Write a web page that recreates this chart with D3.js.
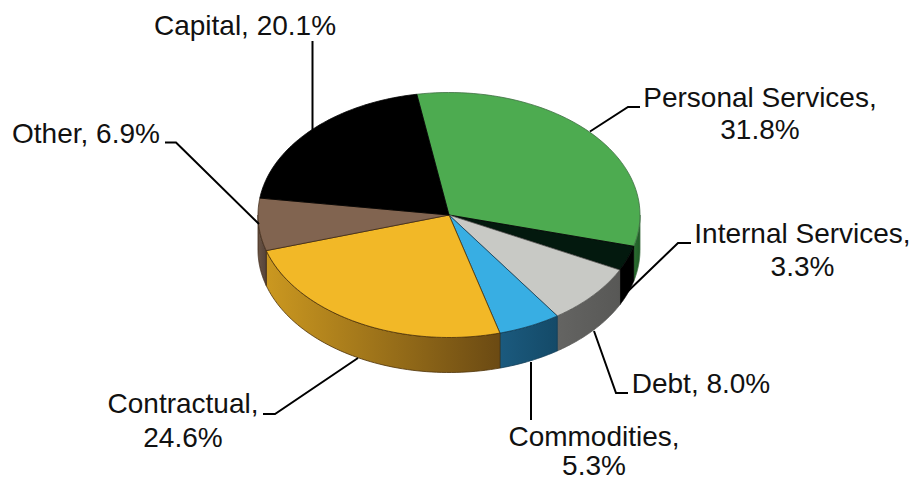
<!DOCTYPE html>
<html>
<head>
<meta charset="utf-8">
<script src="https://cdn.jsdelivr.net/npm/d3@7"></script>
<style>
  html, body { margin: 0; padding: 0; background: #fff; }
  svg { display: block; }
  text { font-family: "Liberation Sans", Arial, sans-serif; font-size: 28px; fill: #111; }
</style>
</head>
<body>
<svg id="chart" width="913" height="481"></svg>
<script>
// Budget shares by expenditure category, clockwise
const categories = ["Personal Services", "Internal Services", "Debt", "Commodities", "Contractual", "Other", "Capital"];
const shares = [31.8, 3.3, 8.0, 5.3, 24.6, 6.9, 20.1];

const topColors = ["#4dab50", "#03190e", "#c8c9c5", "#38aee3", "#f2b827", "#816450", "#000000"];
const wallLight = ["#2c6f31", "#000000", "#646462", "#1b5a7e", "#cb9820", "#6a5444", "#000000"];
const wallDark  = ["#1f5a26", "#000000", "#585856", "#144a68", "#6b4a13", "#55433a", "#000000"];
const edgeColors = ["#3f6f42", "#000000", "#5a5a58", "#123c55", "#4e3208", "#3f2a18", "#000000"];

// Label text lines, split the way they wrap on the page
const labelLines = [
  ["Personal Services,", "31.8%"],
  ["Internal Services,", "3.3%"],
  ["Debt, 8.0%"],
  ["Commodities,", "5.3%"],
  ["Contractual,", "24.6%"],
  ["Other, 6.9%"],
  ["Capital, 20.1%"]
];

// Layout of the tilted disc
const cx = 449, cy = 215, rx = 191, ry = 122.5, depth = 35;
const startAngle = -9.7 * Math.PI / 180;

// Text centre, baselines and leader path for each label
const labelLayout = [
  { x: 760, ys: [106.5, 139], lead: [[590, 131.5], [628, 107], [640, 107]] },
  { x: 802.5, ys: [243, 276], lead: [[622, 297], [678, 243], [691, 243]] },
  { x: 701, ys: [392.5], lead: [[594, 331], [616, 393], [628, 393]] },
  { x: 594, ys: [446, 474.8], lead: [[531, 362], [531, 420]] },
  { x: 183, ys: [413, 447], lead: [[358, 358], [275, 414], [263, 414]] },
  { x: 86, ys: [142.5], lead: [[259, 224], [176, 142.5], [165, 142.5]] },
  { x: 245, ys: [35], lead: [[312.5, 41], [312.5, 130]] }
];

const svg = d3.select("#chart");
const defs = svg.append("defs");

const pie = d3.pie().sort(null)
  .startAngle(startAngle)
  .endAngle(startAngle + 2 * Math.PI);
const slices = pie(shares);

// Angle 0 points up and angles grow clockwise, as in d3.arc
const px = d3.scaleLinear().domain([-1, 1]).range([cx - rx, cx + rx]);
const py = d3.scaleLinear().domain([-1, 1]).range([cy - ry, cy + ry]);
const rimPoint = a => [px(Math.sin(a)), py(-Math.cos(a))];
const rimLine = d3.line();

function rimPoints(a0, a1) {
  return d3.range(0, 61).map(i => rimPoint(a0 + (a1 - a0) * i / 60));
}

// The wall is visible only along the near half of the rim
const nearStart = Math.PI / 2, nearEnd = 3 * Math.PI / 2;

slices.forEach((s, i) => {
  const a0 = Math.max(s.startAngle, nearStart);
  const a1 = Math.min(s.endAngle, nearEnd);
  if (a1 <= a0) return;
  const upper = rimPoints(a0, a1);
  const lower = upper.map(p => [p[0], p[1] + depth]).reverse();

  const grad = defs.append("linearGradient").attr("id", "wall" + i);
  grad.append("stop").attr("offset", "0%").attr("stop-color", wallLight[i]);
  grad.append("stop").attr("offset", "100%").attr("stop-color", wallDark[i]);

  svg.append("path")
    .attr("d", rimLine(upper.concat(lower)) + "Z")
    .attr("fill", `url(#wall${i})`)
    .attr("stroke", edgeColors[i])
    .attr("stroke-width", 0.8);
});

// Top faces of the slices
slices.forEach((s, i) => {
  const pts = [[cx, cy]].concat(rimPoints(s.startAngle, s.endAngle));
  svg.append("path")
    .attr("d", rimLine(pts) + "Z")
    .attr("fill", topColors[i])
    .attr("stroke", edgeColors[i])
    .attr("stroke-width", 0.8)
    .attr("stroke-linejoin", "round");
});

// Leader lines and their labels
categories.forEach((c, i) => {
  const l = labelLayout[i];
  svg.append("path")
    .attr("d", rimLine(l.lead))
    .attr("fill", "none")
    .attr("stroke", "#000")
    .attr("stroke-width", 2);
  labelLines[i].forEach((line, k) => {
    svg.append("text")
      .attr("text-anchor", "middle")
      .attr("x", l.x).attr("y", l.ys[k])
      .text(line);
  });
});
</script>
</body>
</html>
